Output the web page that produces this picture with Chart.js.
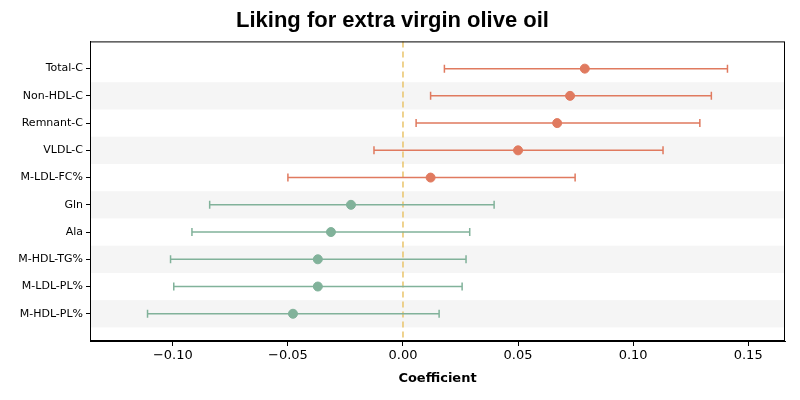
<!DOCTYPE html>
<html><head><meta charset="utf-8">
<script src="https://cdn.jsdelivr.net/npm/chart.js@4"></script>
<style>body{margin:0;background:#fff}#w{width:800px;height:400px}</style>
</head><body><div id="w"><canvas id="c"></canvas></div>
<script>
const categories=["Total-C","Non-HDL-C","Remnant-C","VLDL-C","M-LDL-FC%","Gln","Ala","M-HDL-TG%","M-LDL-PL%","M-HDL-PL%"];
const coef=[0.079,0.0726,0.067,0.050,0.012,-0.0226,-0.0313,-0.037,-0.037,-0.0478];
const lower=[0.018,0.012,0.0057,-0.0126,-0.050,-0.084,-0.0917,-0.101,-0.0996,-0.111];
const upper=[0.141,0.134,0.129,0.113,0.0748,0.0396,0.029,0.0274,0.0257,0.0157];
const xTicks=[-0.10,-0.05,0.00,0.05,0.10,0.15];
const POS='#e07a5f',NEG='#81b29a';
const colors=coef.map(v=>v>0?POS:NEG);
const pts=coef.map((v,i)=>({x:v,y:i}));
const deco={id:'deco',
 beforeDatasetsDraw(ch){const {ctx,chartArea:a,scales:{x,y}}=ch;ctx.save();
  ctx.fillStyle='#f5f5f5';
  categories.forEach((c,i)=>{if(i%2==1){const t=y.getPixelForValue(i-0.5),b=y.getPixelForValue(i+0.5);ctx.fillRect(a.left,t,a.right-a.left,b-t);}});
  ctx.strokeStyle='#e9c46a';ctx.lineWidth=1.5;ctx.setLineDash([6,4]);
  const x0=x.getPixelForValue(0);ctx.beginPath();ctx.moveTo(x0,a.top);ctx.lineTo(x0,a.bottom);ctx.stroke();ctx.setLineDash([]);
  ctx.lineWidth=1.5;
  coef.forEach((v,i)=>{const yy=y.getPixelForValue(i),l=x.getPixelForValue(lower[i]),r=x.getPixelForValue(upper[i]);
   ctx.strokeStyle=colors[i];ctx.beginPath();ctx.moveTo(l,yy);ctx.lineTo(r,yy);
   ctx.moveTo(l,yy-4);ctx.lineTo(l,yy+4);ctx.moveTo(r,yy-4);ctx.lineTo(r,yy+4);ctx.stroke();});
  ctx.restore();},
 afterDatasetsDraw(ch){const {ctx,chartArea:a}=ch;ctx.save();ctx.strokeStyle='#000';ctx.lineWidth=1;ctx.strokeRect(a.left+0.5,a.top+0.5,a.right-a.left-1,a.bottom-a.top-1);ctx.restore();}
};
new Chart(document.getElementById('c'),{type:'scatter',
 data:{datasets:[{data:pts,pointBackgroundColor:colors,pointBorderColor:colors,pointRadius:4.5}]},
 options:{responsive:true,maintainAspectRatio:false,animation:false,
  layout:{padding:{left:0,right:15,top:0,bottom:14}},
  plugins:{legend:{display:false},tooltip:{enabled:false},
   title:{display:true,text:'Liking for extra virgin olive oil',color:'#000',font:{family:'Liberation Sans',size:22,weight:'bold'},padding:{top:8,bottom:7}}},
  scales:{
   x:{min:-0.136,max:0.166,grid:{display:true,drawOnChartArea:false,color:'#000',tickLength:5},border:{color:'#000'},
    afterBuildTicks(s){s.ticks=xTicks.map(v=>({value:v}));},
    ticks:{color:'#000',padding:2,font:{family:'DejaVu Sans',size:13},callback:v=>(v<0?'\u2212':'')+Math.abs(v).toFixed(2)},
    title:{display:true,text:'Coefficient',color:'#000',font:{family:'DejaVu Sans',size:13,weight:'bold'},padding:{top:2,bottom:0}},
    afterFit(s){s.height=45;}},
   y:{min:-1,max:10,reverse:true,grid:{display:true,drawOnChartArea:false,color:'#000',tickLength:4},border:{color:'#000'},
    afterBuildTicks(s){s.ticks=categories.map((c,i)=>({value:i}));},
    ticks:{color:'#000',padding:3,font:{family:'DejaVu Sans',size:11},callback:v=>categories[v]},
    afterFit(s){s.width=90;}}
  }},
 plugins:[deco]});
</script></body></html>
